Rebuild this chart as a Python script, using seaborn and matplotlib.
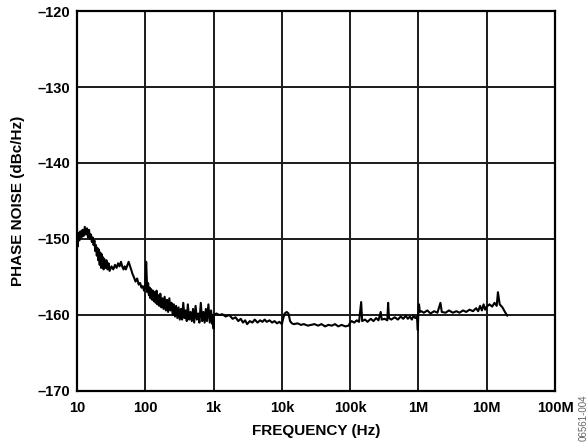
import matplotlib
matplotlib.use("Agg")
import matplotlib.pyplot as plt
import matplotlib.ticker as mticker
import seaborn as sns
import pandas as pd

# ---- data ----
# 10 Hz .. 100 Hz
freq_low = [
    10, 10.2, 10.5, 10.8, 11.2, 11.6, 12, 12.5, 13, 13.5, 14, 14.5, 15, 15.5, 16, 16.5, 17,
    17.5, 18, 18.5, 19, 19.5, 20, 20.5, 21, 21.5, 22, 22.5, 23, 23.5, 24, 24.5, 25, 26, 27,
    28, 29, 30, 32, 34, 36, 38, 40, 42, 44, 46, 48, 50, 52, 55, 57, 59, 62, 65, 68, 72, 76,
    80, 84, 88, 92, 96,
]
noise_low = [
    -148.6, -151.0, -149.2, -150.2, -149.0, -149.8, -148.8, -149.6, -148.4, -149.4, -148.6,
    -149.8, -148.8, -150.0, -149.4, -150.4, -149.8, -150.8, -150.2, -151.6, -150.8, -152.2,
    -151.2, -152.8, -151.4, -153.4, -151.8, -153.8, -152.0, -153.6, -152.4, -154.0, -152.6,
    -153.8, -152.8, -154.0, -153.2, -154.2, -153.6, -154.0, -153.4, -153.8, -153.2, -153.6,
    -153.0, -153.6, -154.0, -153.6, -154.0, -153.4, -153.0, -153.4, -154.0, -154.6, -155.0,
    -155.6, -155.2, -156.0, -155.8, -156.4, -156.2, -156.8,
]
# 100 Hz .. 1 kHz
freq_mid = [
    100, 103, 105, 107, 110, 113, 116, 119, 122, 126, 130, 134, 138, 142, 146, 150, 155, 160,
    166, 172, 178, 185, 192, 200, 208, 216, 225, 234, 243, 252, 262, 272, 283, 295, 307, 320,
    333, 346, 360, 375, 390, 405, 420, 440, 460, 480, 500, 520, 545, 570, 595, 620, 650, 680,
    710, 740, 770, 800, 840, 880, 920, 960, 990, 1000, 1010,
]
noise_mid = [
    -156.4, -153.0, -155.0, -157.0, -155.8, -157.4, -156.4, -157.8, -156.6, -158.0, -156.8,
    -158.2, -157.0, -158.4, -156.8, -158.6, -157.4, -158.8, -157.2, -159.0, -157.8, -159.2,
    -157.6, -159.4, -158.0, -159.6, -157.8, -159.4, -158.4, -160.0, -158.6, -160.2, -158.8,
    -160.4, -159.0, -160.6, -159.2, -160.6, -158.4, -160.4, -159.4, -160.8, -158.6, -160.6,
    -159.6, -160.8, -159.2, -161.0, -158.8, -160.6, -159.8, -161.0, -158.4, -160.8, -159.6,
    -161.0, -159.2, -160.8, -158.6, -161.0, -159.4, -161.2, -160.0, -161.8, -160.0,
]
# 1 kHz .. 1 MHz
freq_high = [
    1100, 1200, 1350, 1500, 1700, 1900, 2100, 2300, 2500, 2700, 2900,
    3100, 3400, 3700, 4000, 4400, 4800, 5200, 5600, 6000, 6600, 7200, 7800, 8500, 9200,
    10000, 10500, 11000, 11800, 12500, 13200, 14000, 15000, 17000, 19000, 21000, 24000,
    27000, 30000, 34000, 38000, 43000, 48000, 54000, 60000, 67000, 75000, 85000, 95000,
    100000, 105000, 115000, 125000, 135000, 145000, 150000, 165000, 180000, 200000, 220000,
    240000, 260000, 280000, 290000, 320000, 350000, 360000, 370000, 400000, 450000, 500000,
    550000, 600000, 650000, 700000, 750000, 800000, 850000, 900000, 950000, 980000,
]
noise_high = [
    -159.8, -160.0, -159.9, -160.2, -160.0, -160.5, -160.3, -160.8, -160.5, -161.0, -160.7,
    -161.2, -160.8, -161.0, -160.6, -161.0, -160.7, -160.9, -160.6, -160.9, -160.7, -161.0,
    -160.8, -161.1, -160.9,
    -161.2, -160.4, -159.8, -159.6, -159.8, -160.8, -161.1, -161.2, -161.1, -161.3, -161.2,
    -161.4, -161.3, -161.2, -161.4, -161.2, -161.5, -161.3, -161.4, -161.2, -161.5, -161.3,
    -161.5, -161.4,
    -161.0, -160.8, -161.0, -160.7, -160.9, -158.3, -160.8, -160.6, -160.9, -160.5, -160.8,
    -160.4, -160.7, -159.6, -160.6, -160.5, -160.7, -158.4, -160.4, -160.6, -160.3, -160.6,
    -160.2, -160.5, -160.1, -160.5, -160.2, -160.6, -160.1, -160.4, -160.2, -162.0,
]
# 1 MHz .. 20 MHz
freq_top = [
    1000000, 1020000, 1050000, 1100000, 1200000, 1350000, 1500000, 1700000, 1900000,
    2100000, 2200000, 2500000, 2800000, 3200000, 3600000, 4000000, 4500000, 5000000,
    5600000, 6300000, 7000000, 7500000, 8000000, 8500000, 9000000, 9500000, 10000000,
    11000000, 12000000, 13000000, 14000000, 14600000, 15500000, 17000000, 18500000, 20000000,
]
noise_top = [
    -159.4, -158.6, -159.6, -159.5, -159.7, -159.4, -159.8, -159.5, -159.7,
    -158.4, -159.6, -159.7, -159.4, -159.7, -159.5, -159.7, -159.4, -159.6,
    -159.3, -159.5, -159.1, -159.5, -158.8, -159.4, -158.6, -159.3, -158.9,
    -158.6, -158.9, -158.4, -158.8, -157.0, -158.6, -159.0, -159.6, -160.1,
]

x_ticks = [10, 100, 1e3, 1e4, 1e5, 1e6, 1e7, 1e8]
x_tick_labels = ["10", "100", "1k", "10k", "100k", "1M", "10M", "100M"]
y_ticks = [-170, -160, -150, -140, -130, -120]
y_tick_labels = ["–170", "–160", "–150", "–140", "–130", "–120"]

df = pd.DataFrame({
    "freq": freq_low + freq_mid + freq_high + freq_top,
    "noise": noise_low + noise_mid + noise_high + noise_top,
})

sns.set_theme(style="white")
plt.rcParams["font.family"] = ["Liberation Sans", "DejaVu Sans"]

fig = plt.figure(figsize=(5.88, 4.45), dpi=100)
ax = fig.add_axes([77 / 588, 1 - 391 / 445, (555 - 77) / 588, (391 - 11) / 445])

sns.lineplot(data=df, x="freq", y="noise", ax=ax, color="black", linewidth=1.5,
             estimator=None, sort=False)

ax.set_xscale("log")
ax.set_xlim(10, 1e8)
ax.set_ylim(-170, -120)
ax.set_xticks(x_ticks)
ax.set_xticklabels(x_tick_labels)
ax.xaxis.set_minor_locator(mticker.NullLocator())
ax.set_yticks(y_ticks)
ax.set_yticklabels(y_tick_labels)

ax.grid(True, which="major", color="#1a1a1a", linewidth=1.4)
ax.set_axisbelow(True)
for s in ax.spines.values():
    s.set_color("black")
    s.set_linewidth(1.6)

ax.tick_params(axis="both", length=0, labelsize=10.5, colors="black")
ax.tick_params(axis="y", pad=5)
ax.tick_params(axis="x", pad=7)
for lab in ax.get_xticklabels() + ax.get_yticklabels():
    lab.set_fontweight("bold")

ax.set_xlabel("FREQUENCY (Hz)", fontsize=11, fontweight="bold", color="black", labelpad=7)
ax.set_ylabel("PHASE NOISE (dBc/Hz)", fontsize=11, fontweight="bold", color="black", labelpad=9)

fig.text(584 / 588, 1 - 418 / 445, "06561-004", rotation=90, fontsize=7, color="#666666",
         ha="center", va="center")

fig.savefig("out.png", dpi=100)
